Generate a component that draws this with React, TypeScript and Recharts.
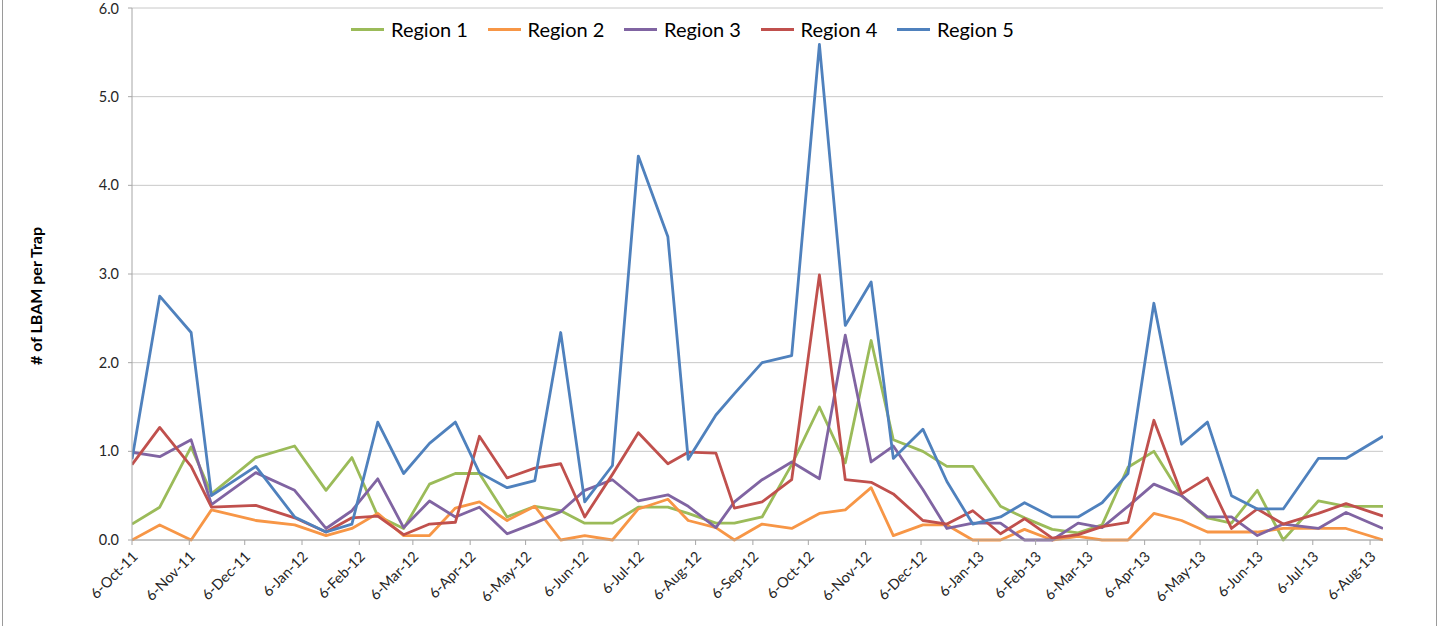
import { CartesianGrid, Line, LineChart, XAxis, YAxis } from "recharts";

// trap check dates
const sampleDates = [
  "2011-10-06", "2011-10-21", "2011-11-07", "2011-11-18", "2011-12-12",
  "2012-01-02", "2012-01-19", "2012-02-02", "2012-02-16", "2012-03-01",
  "2012-03-15", "2012-03-29", "2012-04-11", "2012-04-26", "2012-05-11",
  "2012-05-25", "2012-06-07", "2012-06-22", "2012-07-06", "2012-07-22",
  "2012-08-02", "2012-08-17", "2012-08-27", "2012-09-11", "2012-09-27",
  "2012-10-12", "2012-10-26", "2012-11-09", "2012-11-21", "2012-12-07",
  "2012-12-20", "2013-01-03", "2013-01-18", "2013-01-31", "2013-02-15",
  "2013-03-01", "2013-03-14", "2013-03-28", "2013-04-11", "2013-04-26",
  "2013-05-10", "2013-05-23", "2013-06-06", "2013-06-20", "2013-07-09",
  "2013-07-24", "2013-08-13",
];

const region1 = [
  0.18, 0.37, 1.05, 0.52, 0.93, 1.06, 0.56, 0.93, 0.27, 0.13,
  0.63, 0.75, 0.75, 0.26, 0.38, 0.33, 0.19, 0.19, 0.37, 0.37,
  0.3, 0.19, 0.19, 0.26, 0.85, 1.5, 0.87, 2.25, 1.13, 1.0,
  0.83, 0.83, 0.38, 0.25, 0.12, 0.08, 0.17, 0.82, 1.0, 0.5,
  0.25, 0.19, 0.56, 0.0, 0.44, 0.38, 0.38,
];
const region2 = [
  0.0, 0.17, 0.0, 0.34, 0.22, 0.17, 0.05, 0.13, 0.3, 0.05,
  0.05, 0.36, 0.43, 0.22, 0.38, 0.0, 0.05, 0.0, 0.35, 0.46,
  0.22, 0.14, 0.0, 0.18, 0.13, 0.3, 0.34, 0.59, 0.05, 0.17,
  0.17, 0.0, 0.0, 0.12, 0.0, 0.04, 0.0, 0.0, 0.3, 0.22,
  0.09, 0.09, 0.09, 0.13, 0.13, 0.13, 0.0,
];
const region3 = [
  0.99, 0.94, 1.13, 0.4, 0.76, 0.56, 0.13, 0.33, 0.69, 0.14,
  0.44, 0.26, 0.37, 0.07, 0.19, 0.32, 0.56, 0.68, 0.44, 0.51,
  0.38, 0.14, 0.43, 0.68, 0.88, 0.69, 2.31, 0.88, 1.06, 0.57,
  0.13, 0.19, 0.19, 0.0, 0.0, 0.19, 0.14, 0.38, 0.63, 0.5,
  0.26, 0.26, 0.05, 0.18, 0.13, 0.31, 0.13,
];
const region4 = [
  0.85, 1.27, 0.83, 0.37, 0.39, 0.25, 0.09, 0.25, 0.27, 0.06,
  0.18, 0.2, 1.17, 0.7, 0.81, 0.86, 0.26, 0.74, 1.21, 0.86,
  0.99, 0.98, 0.36, 0.43, 0.68, 2.99, 0.68, 0.65, 0.52, 0.22,
  0.18, 0.33, 0.07, 0.24, 0.02, 0.06, 0.15, 0.2, 1.35, 0.52,
  0.7, 0.13, 0.35, 0.18, 0.3, 0.41, 0.27,
];
const region5 = [
  0.91, 2.75, 2.34, 0.5, 0.83, 0.26, 0.09, 0.18, 1.33, 0.75,
  1.09, 1.33, 0.76, 0.59, 0.67, 2.34, 0.43, 0.84, 4.33, 3.42,
  0.91, 1.41, 1.65, 2.0, 2.08, 5.59, 2.42, 2.91, 0.92, 1.25,
  0.66, 0.18, 0.26, 0.42, 0.26, 0.26, 0.42, 0.75, 2.67, 1.08,
  1.33, 0.5, 0.35, 0.35, 0.92, 0.92, 1.17,
];

const tickDates = [
  "2011-10-06", "2011-11-06", "2011-12-06", "2012-01-06", "2012-02-06",
  "2012-03-06", "2012-04-06", "2012-05-06", "2012-06-06", "2012-07-06",
  "2012-08-06", "2012-09-06", "2012-10-06", "2012-11-06", "2012-12-06",
  "2013-01-06", "2013-02-06", "2013-03-06", "2013-04-06", "2013-05-06",
  "2013-06-06", "2013-07-06", "2013-08-06",
];
const yTicks = [0, 1, 2, 3, 4, 5, 6];

const MONTHS = ["Jan", "Feb", "Mar", "Apr", "May", "Jun", "Jul", "Aug", "Sep", "Oct", "Nov", "Dec"];

const series = [
  { key: "r1", name: "Region 1", color: "#9BBB59" },
  { key: "r2", name: "Region 2", color: "#F79646" },
  { key: "r3", name: "Region 3", color: "#8064A2" },
  { key: "r4", name: "Region 4", color: "#C0504D" },
  { key: "r5", name: "Region 5", color: "#4F81BD" },
];

const data = sampleDates.map((d, i) => ({
  t: Date.parse(d),
  r1: region1[i],
  r2: region2[i],
  r3: region3[i],
  r4: region4[i],
  r5: region5[i],
}));

const FONT = "Lato, 'Open Sans', sans-serif";

function formatDate(ms: number): string {
  const d = new Date(ms);
  return `${d.getUTCDate()}-${MONTHS[d.getUTCMonth()]}-${String(d.getUTCFullYear()).slice(2)}`;
}

function DateTick(props: any) {
  const { x, y, payload } = props;
  const ax = x + 3;
  const ay = y + 7;
  return (
    <text
      x={ax}
      y={ay}
      dy="0.35em"
      transform={`rotate(-45 ${ax} ${ay})`}
      textAnchor="end"
      fill="#262626"
      fontSize={14.5}
      fontFamily={FONT}
    >
      {formatDate(payload.value)}
    </text>
  );
}

// legend floats over the plot, like Excel's overlay legend
function LegendRow() {
  return (
    <div
      style={{
        position: "absolute",
        left: 351,
        top: 16,
        display: "flex",
        fontFamily: FONT,
        fontSize: 20,
        lineHeight: "26px",
        color: "#000",
      }}
    >
      {series.map((s) => (
        <div key={s.key} style={{ width: 136.5, display: "flex", alignItems: "center" }}>
          <span style={{ width: 33, height: 3, background: s.color, marginRight: 7 }} />
          <span>{s.name}</span>
        </div>
      ))}
    </div>
  );
}

function AxisTitle() {
  return (
    <text
      x={42}
      y={296}
      transform="rotate(-90 42 296)"
      textAnchor="middle"
      fontFamily={FONT}
      fontWeight={700}
      fontSize={16}
      fill="#000"
    >
      # of LBAM per Trap
    </text>
  );
}

export default function App() {
  return (
    <div style={{ position: "absolute", left: 0, top: 0, width: 1442, height: 626, background: "#fff", overflow: "hidden" }}>
      <div
        style={{
          position: "absolute",
          left: 2,
          top: -2,
          width: 1433,
          height: 640,
          borderLeft: "1px solid #9a9a9a",
          borderRight: "1px solid #9a9a9a",
        }}
      />
      <LineChart width={1442} height={626} data={data} margin={{ top: 8, right: 59, left: 0, bottom: 0 }}>
        <CartesianGrid vertical={false} stroke="#C8C8C8" strokeWidth={1} />
        <XAxis
          dataKey="t"
          type="number"
          scale="linear"
          domain={[data[0].t, data[data.length - 1].t]}
          ticks={tickDates.map((d) => Date.parse(d))}
          tick={<DateTick />}
          tickLine={{ stroke: "#A6A6A6" }}
          axisLine={{ stroke: "#A6A6A6" }}
          tickSize={5}
          height={86}
          interval={0}
          allowDataOverflow
        />
        <YAxis
          domain={[0, 6]}
          ticks={yTicks}
          tickFormatter={(v) => Number(v).toFixed(1)}
          tick={{ fill: "#262626", fontSize: 14.5, fontFamily: FONT }}
          tickLine={{ stroke: "#A6A6A6" }}
          axisLine={{ stroke: "#A6A6A6" }}
          tickSize={4}
          tickMargin={9}
          width={132}
          label={{ content: () => <AxisTitle /> }}
        />
        {series.map((s) => (
          <Line
            key={s.key}
            type="linear"
            dataKey={s.key}
            name={s.name}
            stroke={s.color}
            strokeWidth={2.8}
            strokeLinejoin="round"
            dot={false}
            activeDot={false}
            isAnimationActive={false}
          />
        ))}
      </LineChart>
      <LegendRow />
    </div>
  );
}
